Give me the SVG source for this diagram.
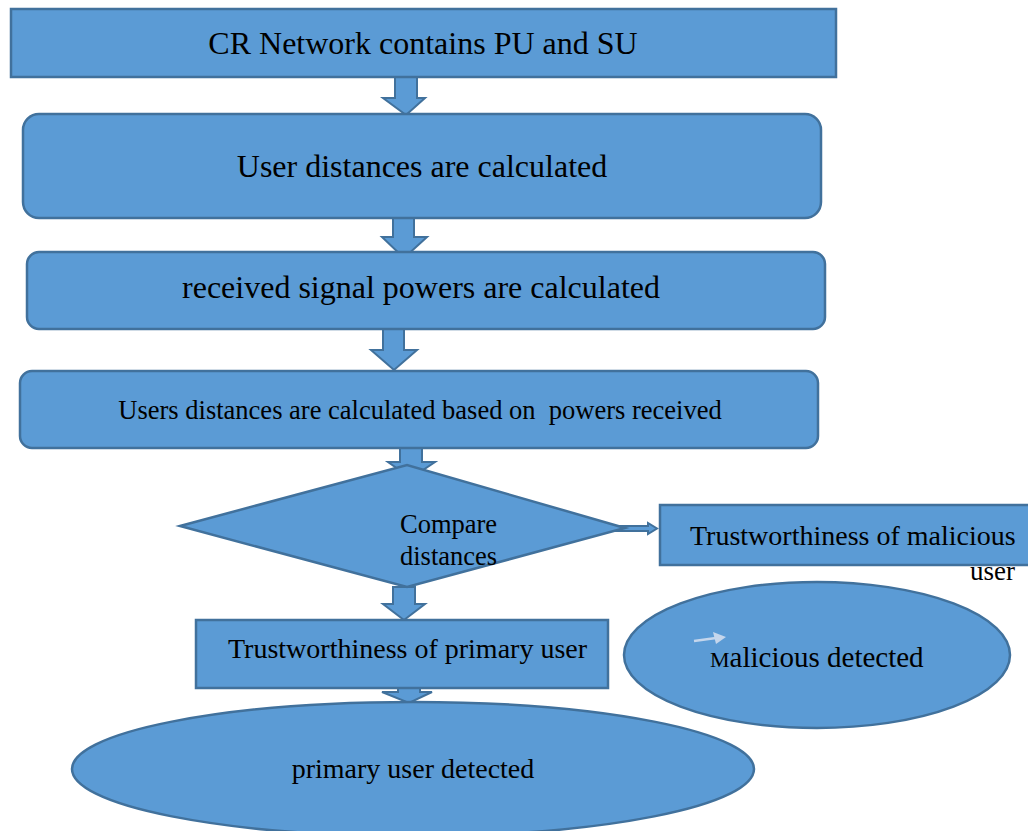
<svg xmlns="http://www.w3.org/2000/svg" width="1028" height="831" viewBox="0 0 1028 831">
<style>
.n{fill:#5B9BD5;stroke:#41719C;stroke-width:2.5}
.a{fill:#5B9BD5;stroke:#41719C;stroke-width:2}
.t{font-family:"Liberation Serif","Times New Roman",serif;fill:#000}
</style>
<rect width="1028" height="831" fill="#fff"/>
<g id="connectors">
<polygon class="a" points="395,77 417,77 417,98 425,98 406,115 383,98 395,98"/>
<polygon class="a" points="393,218 414,218 414,237 427,237 404,258 382,237 393,237"/>
<polygon class="a" points="383,329 404,329 404,350 417,350 394,370 371,350 383,350"/>
<polygon class="a" points="400,448 422,448 422,462 435,462 411,478 388,462 400,462"/>
<polygon class="a" points="393,587 415,587 415,604 425,604 404,620 383,604 393,604"/>
<polygon class="a" points="398,688 420,688 420,692 432,692 409,703 382,692 398,692"/>
<polygon class="a" points="574,526 648,526 648,523 657,528.5 648,534 648,531 574,531" stroke-width="1.5"/>
</g>
<g id="n1"><rect class="n" x="11" y="9" width="825" height="68"/><text class="t" x="423" y="54" font-size="32" text-anchor="middle">CR Network contains PU and SU</text></g>
<g id="n2"><rect class="n" x="23" y="114" width="798" height="104" rx="16"/><text class="t" x="422" y="177" font-size="32" text-anchor="middle">User distances are calculated</text></g>
<g id="n3"><rect class="n" x="27" y="252" width="798" height="77" rx="12"/><text class="t" x="421" y="298" font-size="32" text-anchor="middle">received signal powers are calculated</text></g>
<g id="n4"><rect class="n" x="20" y="371" width="798" height="77" rx="12"/><text class="t" x="420" y="419" font-size="26.5" text-anchor="middle" xml:space="preserve">Users distances are calculated based on  powers received</text></g>
<g id="n5"><polygon class="n" points="180,526 407,465 625,528 407,587"/><text class="t" x="400" y="533" font-size="26.5">Compare</text><text class="t" x="400" y="565" font-size="26.5">distances</text></g>
<g id="n6"><rect class="n" x="660" y="505" width="380" height="60"/><text class="t" x="690" y="545" font-size="28">Trustworthiness of malicious</text><text class="t" x="1015" y="580" font-size="27" text-anchor="end">user</text></g>
<g id="n7"><ellipse class="n" cx="817" cy="655" rx="193" ry="73"/><line x1="694" y1="641" x2="716" y2="638" stroke="#C5D6EC" stroke-width="2.5"/><polygon points="713,632 726,637 716,644" fill="#C5D6EC"/><text class="t" x="710" y="667" font-size="29"><tspan font-size="22">M</tspan>alicious detected</text></g>
<g id="n8"><rect class="n" x="196" y="620" width="412" height="68"/><text class="t" x="228" y="658" font-size="28">Trustworthiness of primary user</text></g>
<g id="n9"><ellipse class="n" cx="413" cy="769" rx="341" ry="67"/><text class="t" x="413" y="778" font-size="28" text-anchor="middle">primary user detected</text></g>
</svg>
